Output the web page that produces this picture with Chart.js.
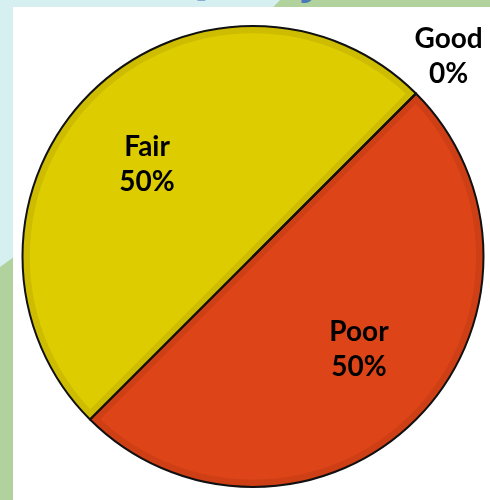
<!DOCTYPE html>
<html>
<head>
<meta charset="utf-8">
<script src="https://cdn.jsdelivr.net/npm/chart.js@4.4.0/dist/chart.umd.min.js"></script>
<style>
    html, body { margin: 0; padding: 0; }
    body {
        width: 490px; height: 500px; overflow: hidden; position: relative;
        background: #d6eff1;
        font-family: Lato, sans-serif;
    }
    /* 幻灯片背景的绿色斜块 */
    .green { position: absolute; background: #b1d19d; }
    .green.top { left: 0; top: 0; width: 490px; height: 40px; clip-path: polygon(280px 0, 490px 0, 490px 40px, 242px 40px); }
    .green.left { left: 0; top: 0; width: 40px; height: 500px; clip-path: polygon(0 267px, 40px 238px, 40px 500px, 0 500px); }
    .slide-title {
        position: absolute; left: 176px; top: -49px;
        font-family: 'Open Sans', sans-serif;
        font-size: 40px; font-weight: 700; color: #4a78b8; white-space: nowrap;
    }
    .panel { position: absolute; left: 13px; top: 7px; right: 0; bottom: 0; background: #fff; }
    #pie-chart { position: absolute; left: 0; top: 0; }
</style>
</head>
<body>
<div class="green top"></div>
<div class="green left"></div>
<div class="slide-title">Quality</div>
<div class="panel"></div>
<canvas id="pie-chart" width="490" height="500"></canvas>
<script>
// 质量评级分布
const categories = ['Good', 'Poor', 'Fair'];
const shares = [0, 50, 50];
const sliceColors = ['#7fb24a', '#dd4418', '#ddcd00'];
const bandColors = ['#6f9d40', '#cf3f16', '#cdbc00'];
// 标签位置：沿扇区中心角方向，x / y 各自的半径比例
const labelRadiusX = [1.2, 0.65, 0.65];
const labelRadiusY = [1.23, 0.565, 0.565];

// 扇区黑色外轮廓
const outlinePlugin = {
    id: 'outline',
    afterDatasetsDraw(chart) {
        const ctx = chart.ctx;
        const meta = chart.getDatasetMeta(0);
        ctx.save();
        ctx.strokeStyle = '#111';
        ctx.lineWidth = 2;
        ctx.lineJoin = 'round';
        meta.data.forEach(arc => {
            const { x, y, startAngle, endAngle, outerRadius } = arc.getProps(['x', 'y', 'startAngle', 'endAngle', 'outerRadius'], true);
            ctx.beginPath();
            ctx.moveTo(x, y);
            ctx.arc(x, y, outerRadius, startAngle, endAngle);
            ctx.closePath();
            ctx.stroke();
        });
        ctx.restore();
    }
};

// 类别名和百分比两行标签
const sliceLabelPlugin = {
    id: 'sliceLabels',
    afterDraw(chart) {
        const ctx = chart.ctx;
        const meta = chart.getDatasetMeta(0);
        ctx.save();
        ctx.fillStyle = '#000';
        ctx.font = '700 28px Lato';
        ctx.textAlign = 'center';
        ctx.textBaseline = 'middle';
        meta.data.forEach((arc, i) => {
            const { x, y, startAngle, endAngle, outerRadius } = arc.getProps(['x', 'y', 'startAngle', 'endAngle', 'outerRadius'], true);
            const mid = (startAngle + endAngle) / 2;
            const cx = x + Math.cos(mid) * outerRadius * labelRadiusX[i];
            const cy = y + Math.sin(mid) * outerRadius * labelRadiusY[i];
            ctx.fillText(categories[i], cx, cy - 17);
            ctx.fillText(shares[i] + '%', cx, cy + 18);
        });
        ctx.restore();
    }
};

new Chart(document.getElementById('pie-chart'), {
    type: 'pie',
    data: {
        labels: categories,
        datasets: [{
            data: shares,
            backgroundColor: sliceColors,
            borderColor: bandColors,
            borderWidth: 7,
            borderAlign: 'inner'
        }]
    },
    options: {
        responsive: false,
        animation: false,
        rotation: 45,
        layout: { padding: { left: 22, right: 6, top: 26, bottom: 13 } },
        plugins: {
            legend: { display: false },
            tooltip: { enabled: false }
        }
    },
    plugins: [outlinePlugin, sliceLabelPlugin]
});
</script>
</body>
</html>
